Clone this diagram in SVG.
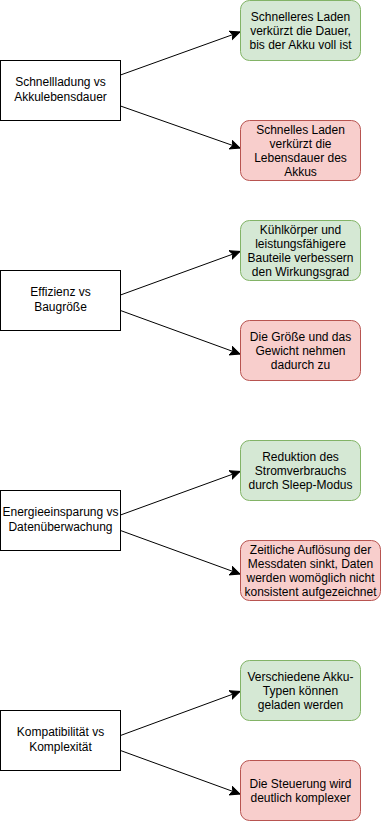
<svg xmlns="http://www.w3.org/2000/svg" width="382" height="821" viewBox="0 0 382 821">
  <style>
    .topic rect { fill: #ffffff; stroke: #000000; stroke-width: 1; }
    .pro rect { fill: #d5e8d4; stroke: #82b366; stroke-width: 1; }
    .con rect { fill: #f8cecc; stroke: #b85450; stroke-width: 1; }
    text { font-family: "Liberation Sans", Arial, Helvetica, sans-serif; font-size: 12px; fill: #000000; text-anchor: middle; }
    .edge { stroke: #000000; stroke-width: 1; fill: none; marker-end: url(#arrow); }
  </style>
  <defs>
    <marker id="arrow" markerUnits="userSpaceOnUse" markerWidth="12" markerHeight="12" refX="10" refY="5" orient="auto">
      <path d="M0,0.5 L10,5 L0,9.5 L2.5,5 Z" fill="#000000" stroke="#000000" stroke-width="1"/>
    </marker>
  </defs>
  <rect width="382" height="821" fill="#ffffff"/>

  <!-- connectors -->
  <g id="edges">
    <line class="edge" x1="120.5" y1="75" x2="240" y2="32"/>
    <line class="edge" x1="120.5" y1="106" x2="240" y2="148"/>
    <line class="edge" x1="120.5" y1="295" x2="240" y2="251.5"/>
    <line class="edge" x1="120.5" y1="310.5" x2="240" y2="354"/>
    <line class="edge" x1="120.5" y1="515" x2="240" y2="471.5"/>
    <line class="edge" x1="120.5" y1="530.5" x2="240" y2="574"/>
    <line class="edge" x1="120.5" y1="735.5" x2="240" y2="691.5"/>
    <line class="edge" x1="120.5" y1="750.5" x2="240" y2="794"/>
  </g>

  <!-- block 1 -->
  <g id="topic-schnellladung" class="topic">
    <rect x="0.5" y="60.5" width="120" height="60"/>
    <text x="60.5" y="86">Schnellladung vs</text>
    <text x="60.5" y="101">Akkulebensdauer</text>
  </g>
  <g id="pro-schnellladung" class="pro">
    <rect x="240.5" y="0.5" width="120" height="60" rx="9" ry="9"/>
    <text x="300.5" y="20.5">Schnelleres Laden</text>
    <text x="300.5" y="34.5">verkürzt die Dauer,</text>
    <text x="300.5" y="48.5">bis der Akku voll ist</text>
  </g>
  <g id="con-schnellladung" class="con">
    <rect x="240.5" y="120.5" width="120" height="60" rx="9" ry="9"/>
    <text x="300.5" y="133.5">Schnelles Laden</text>
    <text x="300.5" y="147.5">verkürzt die</text>
    <text x="300.5" y="161.5">Lebensdauer des</text>
    <text x="300.5" y="175.5">Akkus</text>
  </g>

  <!-- block 2 -->
  <g id="topic-effizienz" class="topic">
    <rect x="0.5" y="270.5" width="120" height="60"/>
    <text x="60.5" y="296">Effizienz vs</text>
    <text x="60.5" y="311">Baugröße</text>
  </g>
  <g id="pro-effizienz" class="pro">
    <rect x="240.5" y="220.5" width="120" height="60" rx="9" ry="9"/>
    <text x="300.5" y="233.5">Kühlkörper und</text>
    <text x="300.5" y="247.5">leistungsfähigere</text>
    <text x="300.5" y="261.5">Bauteile verbessern</text>
    <text x="300.5" y="275.5">den Wirkungsgrad</text>
  </g>
  <g id="con-effizienz" class="con">
    <rect x="240.5" y="320.5" width="120" height="60" rx="9" ry="9"/>
    <text x="300.5" y="340.5">Die Größe und das</text>
    <text x="300.5" y="354.5">Gewicht nehmen</text>
    <text x="300.5" y="368.5">dadurch zu</text>
  </g>

  <!-- block 3 -->
  <g id="topic-energie" class="topic">
    <rect x="0.5" y="490.5" width="120" height="60"/>
    <text x="60.5" y="516">Energieeinsparung vs</text>
    <text x="60.5" y="531">Datenüberwachung</text>
  </g>
  <g id="pro-energie" class="pro">
    <rect x="240.5" y="440.5" width="120" height="60" rx="9" ry="9"/>
    <text x="300.5" y="460.5">Reduktion des</text>
    <text x="300.5" y="474.5">Stromverbrauchs</text>
    <text x="300.5" y="488.5">durch Sleep-Modus</text>
  </g>
  <g id="con-energie" class="con">
    <rect x="240.5" y="540.5" width="140" height="60" rx="9" ry="9"/>
    <text x="310.5" y="553.5">Zeitliche Auflösung der</text>
    <text x="310.5" y="567.5">Messdaten sinkt, Daten</text>
    <text x="310.5" y="581.5">werden womöglich nicht</text>
    <text x="310.5" y="595.5">konsistent aufgezeichnet</text>
  </g>

  <!-- block 4 -->
  <g id="topic-kompatibilitaet" class="topic">
    <rect x="0.5" y="710.5" width="120" height="60"/>
    <text x="60.5" y="736">Kompatibilität vs</text>
    <text x="60.5" y="751">Komplexität</text>
  </g>
  <g id="pro-kompatibilitaet" class="pro">
    <rect x="240.5" y="660.5" width="120" height="60" rx="9" ry="9"/>
    <text x="300.5" y="680.5">Verschiedene Akku-</text>
    <text x="300.5" y="694.5">Typen können</text>
    <text x="300.5" y="708.5">geladen werden</text>
  </g>
  <g id="con-kompatibilitaet" class="con">
    <rect x="240.5" y="760.5" width="120" height="60" rx="9" ry="9"/>
    <text x="300.5" y="787.5">Die Steuerung wird</text>
    <text x="300.5" y="801.5">deutlich komplexer</text>
  </g>
</svg>
